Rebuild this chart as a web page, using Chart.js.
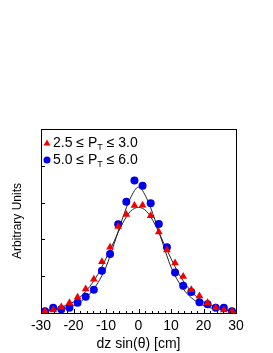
<!DOCTYPE html>
<html>
<head>
<meta charset="utf-8">
<script src="https://cdn.jsdelivr.net/npm/chart.js@4.4.1/dist/chart.umd.min.js"></script>
<style>
  html, body { margin: 0; padding: 0; background: #fff; }
  #wrap { width: 273px; height: 353px; }
</style>
</head>
<body>
<div id="wrap"><canvas id="c"></canvas></div>
<script>
// bin centres, dz sin(theta) [cm]
const binX = [-28.75, -26.25, -23.75, -21.25, -18.75, -16.25, -13.75, -11.25, -8.75, -6.25, -3.75, -1.25,
              1.25, 3.75, 6.25, 8.75, 11.25, 13.75, 16.25, 18.75, 21.25, 23.75, 26.25, 28.75];

// 2.5 <= pT <= 3.0 (red triangles)
const lowPt = [0.05, 0.08, 0.16, 0.28, 0.43, 0.65, 0.92, 1.39, 1.79, 2.35, 2.68, 2.92,
               2.93, 2.64, 2.20, 1.71, 1.36, 0.99, 0.63, 0.46, 0.28, 0.14, 0.08, 0.05];

// 5.0 <= pT <= 6.0 (blue circles)
const highPt = [0.05, 0.14, 0.10, 0.14, 0.28, 0.44, 0.63, 1.15, 1.60, 2.41, 3.02, 3.60,
                3.46, 2.98, 2.42, 1.79, 1.10, 0.74, 0.57, 0.29, 0.24, 0.14, 0.14, 0.05];

// fitted curves
const fitX = [-30, -25, -20, -17.5, -15, -12.5, -10, -7.5, -5, -2.5, 0, 2.5, 5, 7.5, 10, 12.5, 15, 17.5, 20, 25, 30];
const fitLow = [0.05, 0.13, 0.30, 0.47, 0.72, 1.05, 1.48, 1.95, 2.42, 2.76, 2.87,
                2.76, 2.42, 1.95, 1.48, 1.05, 0.72, 0.47, 0.30, 0.13, 0.05];
const fitHigh = [0.05, 0.09, 0.20, 0.33, 0.52, 0.82, 1.25, 1.88, 2.55, 3.12, 3.42,
                 3.12, 2.55, 1.88, 1.25, 0.82, 0.52, 0.33, 0.20, 0.09, 0.05];

const xTicks = [-30, -20, -10, 0, 10, 20, 30];

const RED = "rgb(240,0,0)";
const BLUE = "rgb(0,0,235)";
const FONT = "'Liberation Sans', Arial, sans-serif";

const toPts = (xs, ys) => xs.map((x, i) => ({ x, y: ys[i] }));

// frame, inner ticks and legend
const framePlugin = {
  id: "frame",
  afterDraw(chart) {
    const { ctx, chartArea: a, scales } = chart;
    const xs = scales.x, ys = scales.y;
    ctx.save();
    ctx.strokeStyle = "#000";
    ctx.lineWidth = 1;
    ctx.strokeRect(Math.round(a.left) + 0.5, Math.round(a.top) + 0.5,
                   Math.round(a.right - a.left), Math.round(a.bottom - a.top));
    ctx.beginPath();
    for (let v = -30; v <= 30; v += 2) {
      const px = Math.round(xs.getPixelForValue(v)) + 0.5;
      const len = v % 10 === 0 ? 4 : 2;
      ctx.moveTo(px, a.bottom);
      ctx.lineTo(px, a.bottom - len);
    }
    for (let v = 1; v < 5; v++) {
      const py = Math.round(ys.getPixelForValue(v)) + 0.5;
      ctx.moveTo(a.left, py);
      ctx.lineTo(a.left + 4, py);
    }
    ctx.stroke();

    // legend
    const rows = [
      { color: RED, shape: "tri", a: "2.5 \u2264 P", b: " \u2264 3.0" },
      { color: BLUE, shape: "dot", a: "5.0 \u2264 P", b: " \u2264 6.0" }
    ];
    rows.forEach((r, i) => {
      const y = a.top + 14 + i * 17;
      const mx = a.left + 6;
      ctx.fillStyle = r.color;
      ctx.beginPath();
      if (r.shape === "tri") {
        ctx.moveTo(mx, y - 3.5);
        ctx.lineTo(mx + 3.5, y + 2.5);
        ctx.lineTo(mx - 3.5, y + 2.5);
        ctx.closePath();
      } else {
        ctx.arc(mx, y, 3.5, 0, Math.PI * 2);
      }
      ctx.fill();
      ctx.fillStyle = "#000";
      ctx.textBaseline = "middle";
      ctx.textAlign = "left";
      ctx.font = "14px " + FONT;
      let tx = mx + 6;
      ctx.fillText(r.a, tx, y);
      tx += ctx.measureText(r.a).width;
      ctx.font = "9px " + FONT;
      ctx.fillText("T", tx, y + 5);
      tx += ctx.measureText("T").width;
      ctx.font = "14px " + FONT;
      ctx.fillText(r.b, tx, y);
    });
    ctx.restore();
  }
};

new Chart(document.getElementById("c"), {
  type: "scatter",
  data: {
    datasets: [
      {
        label: "fit low",
        data: toPts(fitX, fitLow),
        showLine: true,
        borderColor: "#222",
        borderWidth: 1,
        pointRadius: 0,
        cubicInterpolationMode: "monotone",
        order: 3
      },
      {
        label: "fit high",
        data: toPts(fitX, fitHigh),
        showLine: true,
        borderColor: "#222",
        borderWidth: 1,
        pointRadius: 0,
        cubicInterpolationMode: "monotone",
        order: 3
      },
      {
        label: "5.0 <= pT <= 6.0",
        data: toPts(binX, highPt),
        pointStyle: "circle",
        pointRadius: 4,
        backgroundColor: BLUE,
        borderWidth: 0,
        order: 2
      },
      {
        label: "2.5 <= pT <= 3.0",
        data: toPts(binX, lowPt),
        pointStyle: "triangle",
        pointRadius: 4.5,
        backgroundColor: RED,
        borderWidth: 0,
        order: 1
      }
    ]
  },
  options: {
    responsive: true,
    maintainAspectRatio: false,
    animation: false,
    layout: { padding: { top: 129, right: 37, left: 0, bottom: 0 } },
    plugins: { legend: { display: false }, tooltip: { enabled: false } },
    scales: {
      x: {
        type: "linear",
        min: -30,
        max: 30,
        afterFit(s) { s.height = 40; },
        afterBuildTicks(s) { s.ticks = xTicks.map(v => ({ value: v })); },
        grid: { display: false, drawTicks: false },
        border: { display: false },
        ticks: { color: "#000", font: { family: FONT, size: 14 }, padding: 5, maxRotation: 0 },
        title: { display: true, text: "dz sin(\u03b8) [cm]", color: "#000", font: { family: FONT, size: 14 }, padding: { top: 0, bottom: 0 } }
      },
      y: {
        min: 0,
        max: 5,
        afterFit(s) { s.width = 41; },
        grid: { display: false, drawTicks: false },
        border: { display: false },
        ticks: { display: false, stepSize: 1 },
        title: { display: true, text: "Arbitrary Units", color: "#000", font: { family: FONT, size: 12 }, padding: { top: 10, bottom: 0 } }
      }
    }
  },
  plugins: [framePlugin]
});
</script>
</body>
</html>
